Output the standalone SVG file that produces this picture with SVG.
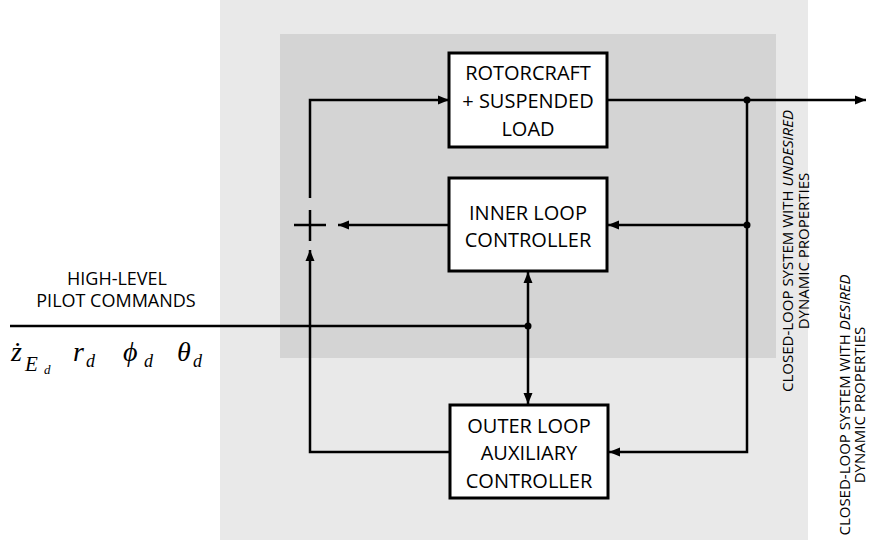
<svg xmlns="http://www.w3.org/2000/svg" width="869" height="540" viewBox="0 0 869 540">
<style>
.box{fill:#fff;stroke:#000;stroke-width:3}
.lbl{font-family:"Open Sans","Liberation Sans",sans-serif;font-size:20px;fill:#000;text-anchor:middle}
.side{font-family:"Open Sans","Liberation Sans",sans-serif;font-size:15px;fill:#000;text-anchor:middle}
.cmd{font-family:"Open Sans","Liberation Sans",sans-serif;font-size:18px;fill:#000;text-anchor:middle}
.math{font-family:"Liberation Serif","DejaVu Serif",serif;font-style:italic;fill:#000}
.ln{fill:none;stroke:#000;stroke-width:2.5}
.arr{marker-end:url(#ah)}
</style>
<defs>
<marker id="ah" markerUnits="userSpaceOnUse" markerWidth="12" markerHeight="10" refX="11" refY="5" orient="auto">
<path d="M0,0.5 L11,5 L0,9.5 Z" fill="#000"/>
</marker>
</defs>
<rect id="outer-region" x="220" y="0" width="588" height="540" fill="#e9e9e9"/>
<rect id="inner-region" x="280" y="34" width="496" height="324" fill="#d4d4d4"/>

<g id="connectors">
<path class="ln" d="M294,225 H326 M310,210 V241"/>
<path class="ln arr" d="M310,198 V100 H449"/>
<path class="ln arr" d="M449,225 H338"/>
<path class="ln arr" d="M450,452 H310 V250"/>
<path class="ln arr" d="M607,100 H866"/>
<path class="ln arr" d="M747,100 V452 H609"/>
<path class="ln arr" d="M747,225 H608"/>
<path class="ln" d="M10,326 H528"/>
<path class="ln arr" d="M528,326 V272"/>
<path class="ln arr" d="M528,326 V404"/>
<circle cx="747" cy="100" r="3.5" fill="#000"/>
<circle cx="747" cy="225" r="3.5" fill="#000"/>
<circle cx="528" cy="326" r="3.5" fill="#000"/>
</g>

<g id="rotorcraft">
<rect class="box" x="449" y="53" width="158" height="94"/>
<text class="lbl" x="528" y="80">ROTORCRAFT</text>
<text class="lbl" x="528" y="108">+ SUSPENDED</text>
<text class="lbl" x="528" y="136">LOAD</text>
</g>

<g id="inner-loop">
<rect class="box" x="449" y="178" width="158" height="93"/>
<text class="lbl" x="528" y="220">INNER LOOP</text>
<text class="lbl" x="528" y="247">CONTROLLER</text>
</g>

<g id="outer-loop">
<rect class="box" x="450" y="405" width="158" height="93"/>
<text class="lbl" x="529" y="433">OUTER LOOP</text>
<text class="lbl" x="529" y="460">AUXILIARY</text>
<text class="lbl" x="529" y="488">CONTROLLER</text>
</g>

<g id="commands">
<text class="cmd" x="117" y="285">HIGH-LEVEL</text>
<text class="cmd" x="116" y="307">PILOT COMMANDS</text>
<text class="math" x="11" y="361" font-size="28">ż</text>
<text class="math" x="25" y="371" font-size="21">E</text>
<text class="math" x="44" y="374" font-size="13">d</text>
<text class="math" x="73" y="361" font-size="28">r</text>
<text class="math" x="86" y="367" font-size="18">d</text>
<text class="math" x="123" y="361" font-size="28">ϕ</text>
<text class="math" x="144" y="367" font-size="18">d</text>
<text class="math" x="177" y="361" font-size="28">θ</text>
<text class="math" x="193" y="367" font-size="18">d</text>
</g>

<g id="undesired-label">
<text class="side" transform="translate(793,251) rotate(-90)">CLOSED-LOOP SYSTEM WITH <tspan font-style="italic">UNDESIRED</tspan></text>
<text class="side" transform="translate(809,251) rotate(-90)">DYNAMIC PROPERTIES</text>
</g>
<g id="desired-label">
<text class="side" transform="translate(850,405) rotate(-90)">CLOSED-LOOP SYSTEM WITH <tspan font-style="italic">DESIRED</tspan></text>
<text class="side" transform="translate(865,405) rotate(-90)">DYNAMIC PROPERTIES</text>
</g>
</svg>
